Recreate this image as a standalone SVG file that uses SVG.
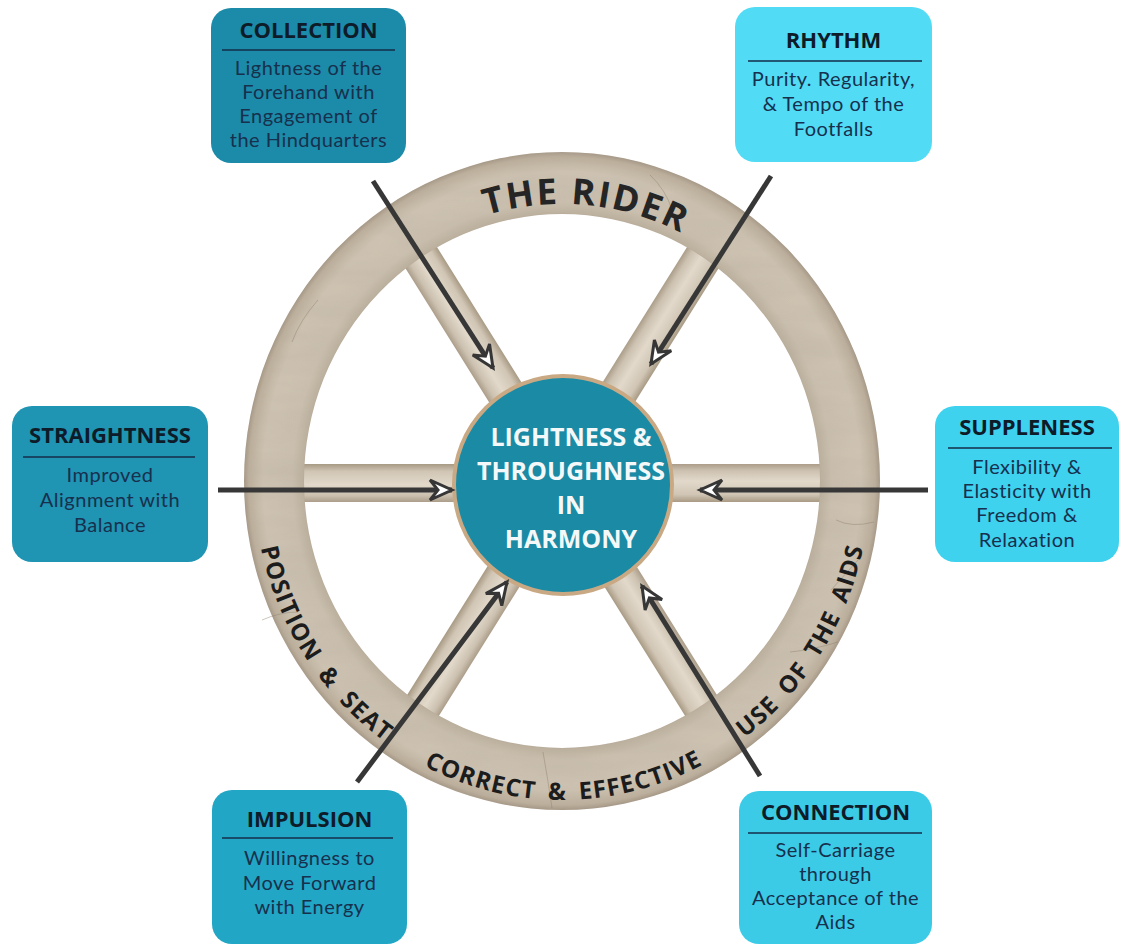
<svg xmlns="http://www.w3.org/2000/svg" width="1122" height="946" viewBox="0 0 1122 946">
  <style>
    .box-title { font-family: "Open Sans", "Liberation Sans", sans-serif; font-weight: 700; font-size: 22px; fill: #0e1b29; text-anchor: middle; }
    .box-body { font-family: Lato, "Liberation Sans", sans-serif; font-weight: 400; font-size: 20px; letter-spacing: 0.5px; fill: #17304d; text-anchor: middle; }
    .box-rule { stroke: #142d48; stroke-width: 1.6; }
    .hub-text { font-family: "Open Sans", "Liberation Sans", sans-serif; font-weight: 700; font-size: 25px; fill: #f4f8f8; text-anchor: middle; }
    .rim-big { font-family: "Open Sans", "Liberation Sans", sans-serif; font-weight: 700; font-size: 36px; letter-spacing: 2px; fill: #252525; }
    .rim-small { font-family: "Open Sans", "Liberation Sans", sans-serif; font-weight: 700; font-size: 24px; letter-spacing: 1.2px; fill: #1c1c1c; }
    .spoke { fill: url(#spokeGrad); }
    .crack { fill: none; stroke: #8c7f6d; stroke-width: 0.8; opacity: 0.55; }
    .arrow { fill: none; stroke: #373737; stroke-width: 5; marker-end: url(#arrowHead); }
  </style>
  <defs>
    <radialGradient id="rimGrad" cx="0.5" cy="0.5" r="0.5">
      <stop offset="0.80" stop-color="#ad9f8c"/>
      <stop offset="0.815" stop-color="#bdb19f"/>
      <stop offset="0.85" stop-color="#cbc0af"/>
      <stop offset="0.94" stop-color="#cec3b2"/>
      <stop offset="0.985" stop-color="#bcaf9c"/>
      <stop offset="1" stop-color="#a69886"/>
    </radialGradient>
    <linearGradient id="spokeGrad" x1="0" y1="0" x2="0" y2="1">
      <stop offset="0" stop-color="#ab9d89"/>
      <stop offset="0.18" stop-color="#cdc2b1"/>
      <stop offset="0.45" stop-color="#e2d9cb"/>
      <stop offset="0.8" stop-color="#d1c6b5"/>
      <stop offset="1" stop-color="#a89a84"/>
    </linearGradient>
    <filter id="grain" x="0" y="0" width="1" height="1">
      <feTurbulence type="fractalNoise" baseFrequency="0.012 0.05" numOctaves="3" seed="7" result="noise"/>
      <feColorMatrix in="noise" type="matrix" values="0 0 0 0 0.45  0 0 0 0 0.40  0 0 0 0 0.33  0 0 0 0.35 -0.08" result="tint"/>
      <feComposite in="tint" in2="SourceGraphic" operator="in" result="grainIn"/>
      <feMerge>
        <feMergeNode in="SourceGraphic"/>
        <feMergeNode in="grainIn"/>
      </feMerge>
    </filter>
    <marker id="arrowHead" markerUnits="userSpaceOnUse" viewBox="-28 -14 32 28" refX="0" refY="0" markerWidth="32" markerHeight="28" orient="auto">
      <path d="M-22,-10 L0,0 L-22,10 L-14,0 Z" fill="#ffffff" stroke="#363636" stroke-width="3" stroke-linejoin="miter"/>
    </marker>
    <!-- baseline for the upper rim label (clockwise, letters face outward) -->
    <path id="rimTop" d="M294,481 A268,277 0 0 1 830,481"/>
    <!-- baseline for the lower rim labels (counter-clockwise, letters face inward) -->
    <path id="rimLow" d="M562,162 A308,319 0 0 0 562,800 A308,319 0 0 0 562,162"/>
  </defs>

  <rect width="1122" height="946" fill="#ffffff"/>

  <!-- wheel: spokes, rim, hub -->
  <g id="wheel">
    <g id="spokes">
      <rect class="spoke" x="0" y="-19" width="300" height="38" transform="translate(562,483) rotate(0)"/>
      <rect class="spoke" x="0" y="-19" width="300" height="38" transform="translate(562,483) rotate(180)"/>
      <rect class="spoke" x="0" y="-19" width="300" height="38" transform="translate(562,483) rotate(238)"/>
      <rect class="spoke" x="0" y="-19" width="300" height="38" transform="translate(562,483) rotate(302)"/>
      <rect class="spoke" x="0" y="-19" width="300" height="38" transform="translate(562,483) rotate(122)"/>
      <rect class="spoke" x="0" y="-19" width="300" height="38" transform="translate(562,483) rotate(58)"/>
    </g>
    <path id="rim" fill="url(#rimGrad)" fill-rule="evenodd" filter="url(#grain)"
      d="M244,481 A318,329 0 1 0 880,481 A318,329 0 1 0 244,481 Z
         M304,481 A258,267 0 1 0 820,481 A258,267 0 1 0 304,481 Z"/>
    <g id="rim-cracks">
      <path class="crack" d="M790,652 Q812,650 838,642"/>
      <path class="crack" d="M836,520 Q852,528 874,522"/>
      <path class="crack" d="M831,590 L858,560"/>
      <path class="crack" d="M543,752 Q548,780 552,808"/>
      <path class="crack" d="M318,300 Q300,320 292,342"/>
      <path class="crack" d="M650,175 Q666,190 672,210"/>
      <path class="crack" d="M262,620 Q280,612 298,612"/>
    </g>
    <g id="hub">
      <circle cx="563" cy="485" r="109" fill="#1a8aa5" stroke="#c9a984" stroke-width="4"/>
      <text class="hub-text" x="571" y="446">LIGHTNESS &amp;</text>
      <text class="hub-text" x="571" y="480">THROUGHNESS</text>
      <text class="hub-text" x="571" y="514">IN</text>
      <text class="hub-text" x="571" y="548">HARMONY</text>
    </g>
  </g>

  <!-- connectors from the six qualities into the hub -->
  <g id="connectors">
    <line class="arrow" x1="373" y1="181" x2="493" y2="368"/>
    <line class="arrow" x1="771" y1="176" x2="651" y2="364"/>
    <line class="arrow" x1="218" y1="490" x2="452" y2="490"/>
    <line class="arrow" x1="928" y1="490" x2="700" y2="490"/>
    <line class="arrow" x1="357" y1="782" x2="507" y2="582"/>
    <line class="arrow" x1="760" y1="776" x2="642" y2="586"/>
  </g>

  <!-- labels around the rim -->
  <g id="rim-labels">
    <text class="rim-big"><textPath href="#rimTop" startOffset="52.8%" text-anchor="middle">THE RIDER</textPath></text>
    <text class="rim-small"><textPath href="#rimLow" startOffset="34.4%" text-anchor="middle" word-spacing="7">POSITION &amp; SEAT</textPath></text>
    <text class="rim-small"><textPath href="#rimLow" startOffset="50.1%" text-anchor="middle" word-spacing="5">CORRECT &amp; EFFECTIVE</textPath></text>
    <text class="rim-small"><textPath href="#rimLow" startOffset="65.8%" text-anchor="middle" word-spacing="5">USE OF THE AIDS</textPath></text>
  </g>

  <g id="collection">
    <rect x="211" y="8" width="195" height="155" rx="20" fill="#1b8ba9"/>
    <line class="box-rule" x1="222" y1="50" x2="395" y2="50"/>
    <text class="box-title" x="308.5" y="38">COLLECTION</text>
    <text class="box-body" x="308.5" y="75">Lightness of the</text>
    <text class="box-body" x="308.5" y="99">Forehand with</text>
    <text class="box-body" x="308.5" y="123">Engagement of</text>
    <text class="box-body" x="308.5" y="147">the Hindquarters</text>
  </g>

  <g id="rhythm">
    <rect x="735" y="7" width="197" height="155" rx="20" fill="#51dbf5"/>
    <line class="box-rule" x1="748" y1="61" x2="922" y2="61"/>
    <text class="box-title" x="833.5" y="48">RHYTHM</text>
    <text class="box-body" x="833.5" y="86">Purity. Regularity,</text>
    <text class="box-body" x="833.5" y="111">&amp; Tempo of the</text>
    <text class="box-body" x="833.5" y="136">Footfalls</text>
  </g>

  <g id="straightness">
    <rect x="12" y="406" width="196" height="156" rx="20" fill="#1f94b3"/>
    <line class="box-rule" x1="23" y1="457" x2="195" y2="457"/>
    <text class="box-title" x="110" y="443">STRAIGHTNESS</text>
    <text class="box-body" x="110" y="482">Improved</text>
    <text class="box-body" x="110" y="507">Alignment with</text>
    <text class="box-body" x="110" y="532">Balance</text>
  </g>

  <g id="suppleness">
    <rect x="935" y="406" width="184" height="156" rx="20" fill="#3ed2ef"/>
    <line class="box-rule" x1="948" y1="448" x2="1112" y2="448"/>
    <text class="box-title" x="1027" y="435">SUPPLENESS</text>
    <text class="box-body" x="1027" y="474">Flexibility &amp;</text>
    <text class="box-body" x="1027" y="498">Elasticity with</text>
    <text class="box-body" x="1027" y="522">Freedom &amp;</text>
    <text class="box-body" x="1027" y="547">Relaxation</text>
  </g>

  <g id="impulsion">
    <rect x="212" y="790" width="195" height="154" rx="20" fill="#22a6c6"/>
    <line class="box-rule" x1="222" y1="838" x2="393" y2="838"/>
    <text class="box-title" x="309.5" y="827">IMPULSION</text>
    <text class="box-body" x="309.5" y="865">Willingness to</text>
    <text class="box-body" x="309.5" y="890">Move Forward</text>
    <text class="box-body" x="309.5" y="914">with Energy</text>
  </g>

  <g id="connection">
    <rect x="739" y="791" width="193" height="153" rx="20" fill="#3ccbe7"/>
    <line class="box-rule" x1="748" y1="833" x2="922" y2="833"/>
    <text class="box-title" x="835.5" y="820">CONNECTION</text>
    <text class="box-body" x="835.5" y="857">Self-Carriage</text>
    <text class="box-body" x="835.5" y="881">through</text>
    <text class="box-body" x="835.5" y="905">Acceptance of the</text>
    <text class="box-body" x="835.5" y="929">Aids</text>
  </g>
</svg>
